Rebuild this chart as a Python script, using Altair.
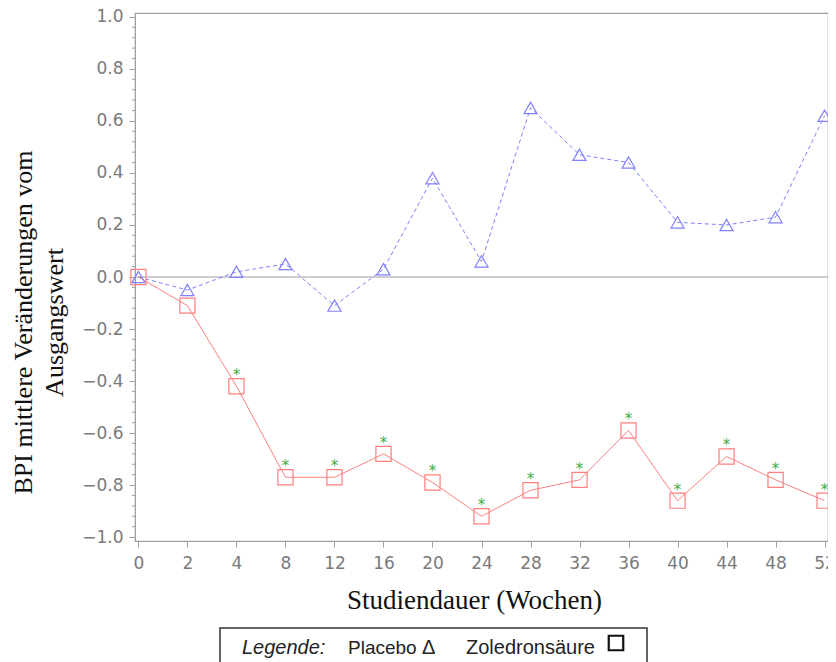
import altair as alt
import pandas as pd

weeks = [0, 2, 4, 8, 12, 16, 20, 24, 28, 32, 36, 40, 44, 48, 52]
placebo = [0.00, -0.05, 0.02, 0.05, -0.11, 0.03, 0.38, 0.06, 0.65, 0.47, 0.44, 0.21, 0.20, 0.23, 0.62]
zoledron = [0.00, -0.11, -0.42, -0.77, -0.77, -0.68, -0.79, -0.92, -0.82, -0.78, -0.59, -0.86, -0.69, -0.78, -0.86]
significant = [False, False, True, True, True, True, True, True, True, True, True, True, True, True, True]
y_major = [-1.0, -0.8, -0.6, -0.4, -0.2, 0.0, 0.2, 0.4, 0.6, 0.8, 1.0]
y_minor = [round(-1.0 + 0.04 * i, 2) for i in range(51) if i % 5 != 0]

df = pd.DataFrame({"week": weeks, "placebo": placebo, "zol": zoledron, "sig": significant})
df_sig = df[df["sig"]]
df_minor = pd.DataFrame({"v": y_minor})
one = pd.DataFrame({"a": [0]})

BLUE = "#7f7fff"
RED = "#ff7f7f"
GREEN = "#3fae3f"
GRAY = "#a0a0a0"
LABEL = "#7a7a7a"

x_enc = alt.X(
    "week:O",
    sort=weeks,
    scale=alt.Scale(type="point", padding=0.07),
    axis=alt.Axis(
        title="Studiendauer (Wochen)",
        labelAngle=0,
        labelFont="DejaVu Sans",
        labelFontSize=17,
        labelColor=LABEL,
        labelPadding=8,
        tickSize=6,
        tickColor=GRAY,
        domainColor=GRAY,
        grid=False,
        titleFont="Liberation Serif",
        titleFontSize=27,
        titleFontWeight="normal",
        titleColor="#111",
        titleBaseline="alphabetic",
        titleX=339,
        titleY=67,
    ),
)
y_scale = alt.Scale(domain=[-1.015, 1.015], nice=False, zero=False)
y_axis = alt.Axis(
    title=["BPI mittlere Veränderungen vom", "Ausgangswert"],
    values=y_major,
    format=".1f",
    labelFont="DejaVu Sans",
    labelFontSize=17,
    labelColor=LABEL,
    labelPadding=6,
    tickSize=6,
    tickColor=GRAY,
    domainColor=GRAY,
    grid=False,
    titleFont="Liberation Serif",
    titleFontSize=26,
    titleFontWeight="normal",
    titleColor="#111",
    titleAngle=-90,
    titleBaseline="alphabetic",
    titleAlign="center",
    titleLineHeight=31,
    titleX=-104,
    titleY=309,
)

base = alt.Chart(df)

zero = alt.Chart(one).mark_rule(color=GRAY, strokeWidth=1.2).encode(
    y=alt.datum(0, scale=y_scale, axis=y_axis)
)

pl_line = base.mark_line(color=BLUE, strokeDash=[4, 3], strokeWidth=1).encode(
    x=x_enc, y=alt.Y("placebo:Q", scale=y_scale, axis=y_axis)
)
pl_pts = base.mark_point(shape="triangle-up", filled=False, color=BLUE, size=170, strokeWidth=1.2, opacity=1).encode(
    x=x_enc, y=alt.Y("placebo:Q", scale=y_scale, axis=y_axis)
)
zo_line = base.mark_line(color=RED, strokeWidth=1).encode(
    x=x_enc, y=alt.Y("zol:Q", scale=y_scale, axis=y_axis)
)
zo_pts = base.mark_point(shape="square", filled=False, color=RED, size=230, strokeWidth=1.2, opacity=1).encode(
    x=x_enc, y=alt.Y("zol:Q", scale=y_scale, axis=y_axis)
)
stars = alt.Chart(df_sig).mark_text(text="*", color=GREEN, fontSize=15, dy=-11, font="DejaVu Sans").encode(
    x=x_enc, y=alt.Y("zol:Q", scale=y_scale, axis=y_axis)
)
minor = alt.Chart(df_minor).mark_rule(color=GRAY, strokeWidth=1).encode(
    y=alt.Y("v:Q", scale=y_scale, axis=y_axis), x=alt.value(-3), x2=alt.value(0)
)

# legend box below the chart
box = alt.Chart(one).mark_rect(fill="white", stroke="#333", strokeWidth=1.5).encode(
    x=alt.value(85), x2=alt.value(512), y=alt.value(615), y2=alt.value(700)
)
leg_font = "Liberation Sans"


def leg_text(txt, x, size=20, italic=False):
    kw = {"fontStyle": "italic"} if italic else {}
    return alt.Chart(one).mark_text(text=txt, font=leg_font, fontSize=size, align="left",
                                    baseline="alphabetic", color="#222", **kw).encode(
        x=alt.value(x), y=alt.value(641))


leg_title = leg_text("Legende:", 107, italic=True)
leg_pl = leg_text("Placebo", 213, size=19)
leg_tri = leg_text("Δ", 287)
leg_zo = leg_text("Zoledronsäure", 331)
leg_sq = alt.Chart(one).mark_point(shape="square", filled=False, color="#111", size=210, strokeWidth=2.2, opacity=1).encode(
    x=alt.value(481), y=alt.value(630))

chart = alt.layer(
    zero, minor, pl_line, zo_line, pl_pts, zo_pts, stars, box, leg_title, leg_pl, leg_tri, leg_zo, leg_sq
).properties(
    width=693,
    height=528,
    autosize=alt.AutoSizeParams(type="none"),
    padding={"left": 127, "top": 5, "right": 0, "bottom": 150},
).configure_view(
    stroke=GRAY, strokeWidth=1.2
)

chart.save("out.html", embed_options={"renderer": "svg", "actions": False})
